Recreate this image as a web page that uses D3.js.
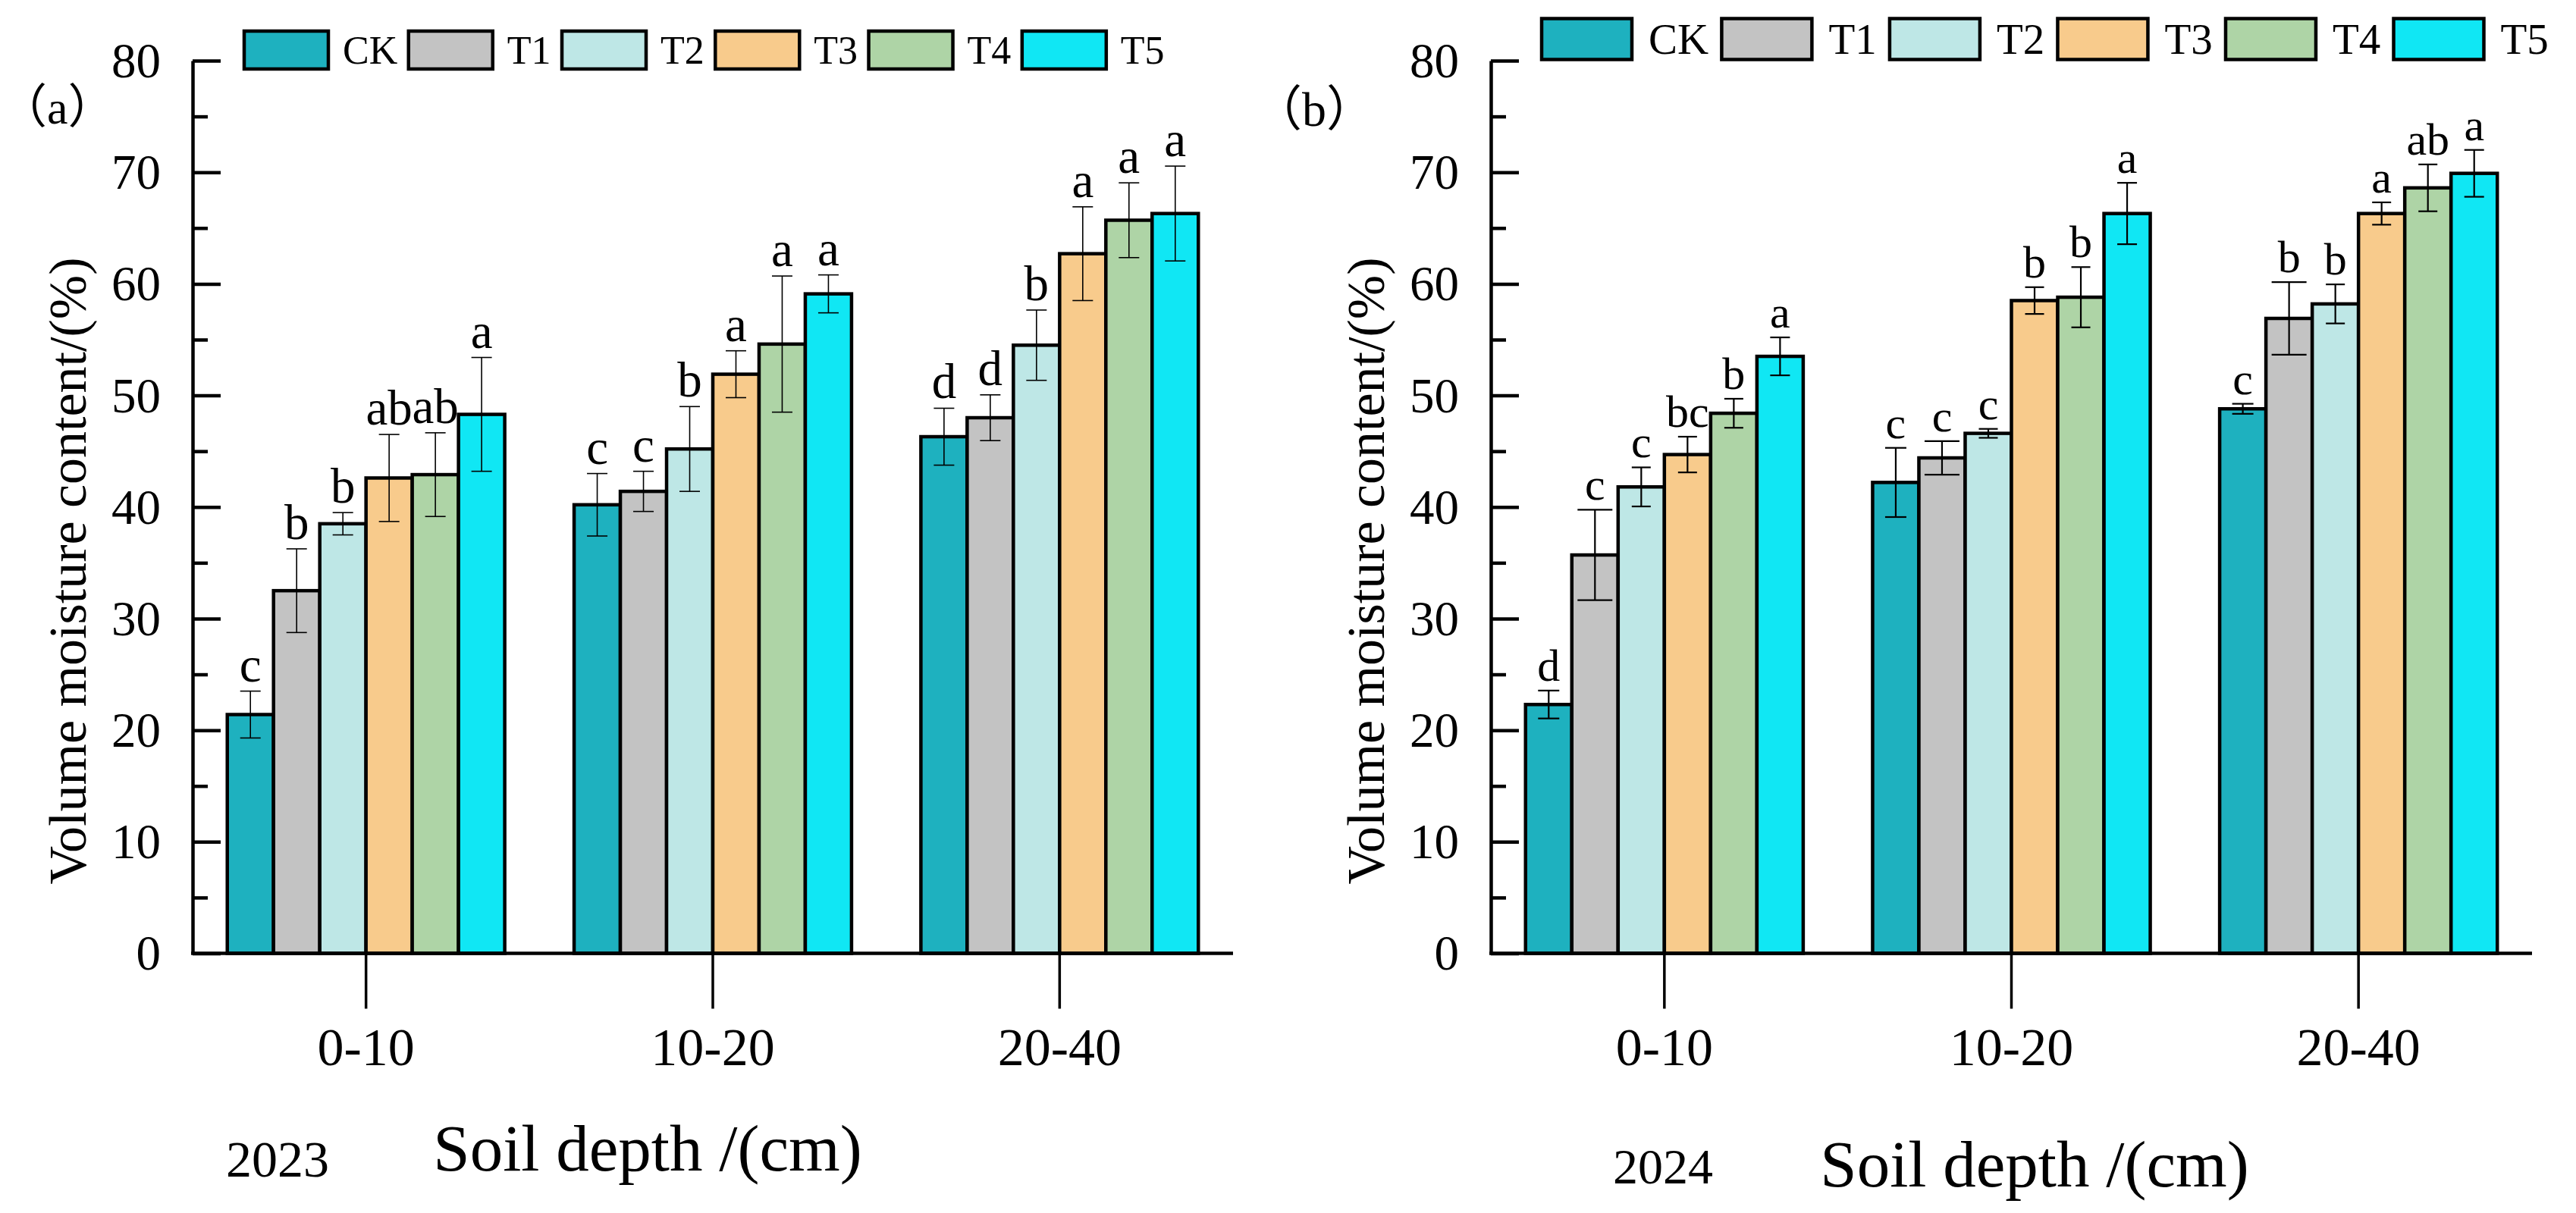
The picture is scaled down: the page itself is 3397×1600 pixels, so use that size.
<!DOCTYPE html>
<html><head><meta charset="utf-8">
<script src="https://cdn.jsdelivr.net/npm/d3@7"></script>
<style>body{margin:0;background:#fff}svg{display:block}</style>
</head><body><svg id="c" width="3397" height="1600"></svg>
<script>
// ---------- data ----------
const categories = ["0-10", "10-20", "20-40"];
const seriesNames = ["CK", "T1", "T2", "T3", "T4", "T5"];
const seriesColors = ["#1eb1bf", "#c3c3c3", "#bee7e6", "#f8cb8c", "#aed4a6", "#10e7f4"];
const yTickValues = [0, 10, 20, 30, 40, 50, 60, 70, 80];
const yMinorValues = [5, 15, 25, 35, 45, 55, 65, 75];

// rows = soil depth category, columns = treatment (CK,T1..T5)
const means2023 = [
  [21.4, 32.5, 38.5, 42.6, 42.9, 48.3],
  [40.2, 41.4, 45.2, 51.9, 54.6, 59.1],
  [46.3, 48.0, 54.5, 62.7, 65.7, 66.3]
];
const errors2023 = [
  [2.1, 3.75, 1.0, 3.9, 3.75, 5.1],
  [2.8, 1.8, 3.8, 2.1, 6.1, 1.7],
  [2.55, 2.05, 3.15, 4.2, 3.35, 4.25]
];
const letters2023 = [
  ["c", "b", "b", "ab", "ab", "a"],
  ["c", "c", "b", "a", "a", "a"],
  ["d", "d", "b", "a", "a", "a"]
];
const means2024 = [
  [22.3, 35.7, 41.8, 44.7, 48.4, 53.5],
  [42.2, 44.4, 46.6, 58.5, 58.8, 66.3],
  [48.8, 56.9, 58.2, 66.3, 68.6, 69.9]
];
const errors2024 = [
  [1.25, 4.05, 1.75, 1.6, 1.3, 1.7],
  [3.1, 1.5, 0.4, 1.2, 2.7, 2.75],
  [0.45, 3.25, 1.75, 1.0, 2.1, 2.1]
];
const letters2024 = [
  ["d", "c", "c", "bc", "b", "a"],
  ["c", "c", "c", "b", "b", "a"],
  ["c", "b", "b", "a", "ab", "a"]
];

// ---------- layout / style ----------
const FONT = "'Liberation Serif','Times New Roman',serif";
const svg = d3.select("#c");

const panels = [
  {
    means: means2023, errors: errors2023, letters: letters2023,
    axisX: 254, axisRight: 1626,
    tag: "（a）", tagX: 0, tagY: 163, tagSize: 62,
    year: "2023", yearX: 298, yearY: 1552, yearSize: 68,
    xTitleX: 854, xTitleY: 1544,
    yTitleX: 113, yTitleY: 753,
    legend: {x: 322, y: 41, w: 111, h: 50, gap1: 19, gap2: 14.5, size: 52},
    letterSize: 65, errW: 1.6, caps: [27, 27, 27, 27, 27, 27]
  },
  {
    means: means2024, errors: errors2024, letters: letters2024,
    axisX: 1966, axisRight: 3339,
    tag: "（b）", tagX: 1653, tagY: 166, tagSize: 64,
    year: "2024", yearX: 2127, yearY: 1561, yearSize: 66,
    xTitleX: 2683, xTitleY: 1565,
    yTitleX: 1825, yTitleY: 753,
    legend: {x: 2033, y: 24.5, w: 119, h: 54, gap1: 22, gap2: 17.2, size: 57},
    letterSize: 60, errW: 2.2, caps: [28, 46, 25, 25, 25, 26]
  }
];

const y = d3.scaleLinear().domain([0, 80]).range([1257.5, 80]);

panels.forEach(p => {
  const g = svg.append("g");
  const x0 = d3.scaleBand().domain(categories).range([p.axisX, p.axisRight])
    .paddingInner(0.2).paddingOuter(0.1);
  const x1 = d3.scaleBand().domain(seriesNames).range([0, x0.bandwidth()]);
  const color = d3.scaleOrdinal().domain(seriesNames).range(seriesColors);

  // flatten
  const rows = [];
  categories.forEach((c, i) => seriesNames.forEach((s, j) => {
    rows.push({c, s, j, m: p.means[i][j], e: p.errors[i][j], l: p.letters[i][j]});
  }));

  // bars
  g.selectAll("rect.bar").data(rows).join("rect").attr("class", "bar")
    .attr("x", d => x0(d.c) + x1(d.s))
    .attr("width", x1.bandwidth())
    .attr("y", d => y(d.m))
    .attr("height", d => y(0) - y(d.m))
    .attr("fill", d => color(d.s))
    .attr("stroke", "#000").attr("stroke-width", 4.5);

  // error bars
  const eg = g.append("g").attr("stroke", "#000").attr("stroke-width", p.errW);
  const cx = d => x0(d.c) + x1(d.s) + x1.bandwidth() / 2;
  eg.selectAll("line.v").data(rows).join("line").attr("class", "v")
    .attr("x1", cx).attr("x2", cx)
    .attr("y1", d => y(d.m + d.e)).attr("y2", d => y(d.m - d.e));
  eg.selectAll("line.t").data(rows).join("line").attr("class", "t")
    .attr("x1", d => cx(d) - p.caps[d.j] / 2).attr("x2", d => cx(d) + p.caps[d.j] / 2)
    .attr("y1", d => y(d.m + d.e)).attr("y2", d => y(d.m + d.e));
  eg.selectAll("line.b").data(rows).join("line").attr("class", "b")
    .attr("x1", d => cx(d) - p.caps[d.j] / 2).attr("x2", d => cx(d) + p.caps[d.j] / 2)
    .attr("y1", d => y(d.m - d.e)).attr("y2", d => y(d.m - d.e));

  // significance letters
  g.selectAll("text.sig").data(rows).join("text").attr("class", "sig")
    .attr("x", cx).attr("y", d => y(d.m + d.e) - 13)
    .attr("text-anchor", "middle")
    .style("font-family", FONT).style("font-size", p.letterSize + "px")
    .text(d => d.l);

  // y axis (major + minor, inward ticks)
  const ya = g.append("g").attr("transform", `translate(${p.axisX},0)`)
    .call(d3.axisLeft(y).tickValues(yTickValues).tickSize(-37).tickSizeOuter(0).tickPadding(42));
  ya.select(".domain").attr("stroke-width", 4.5);
  ya.selectAll(".tick line").attr("stroke-width", 4.5);
  ya.selectAll(".tick text").style("font-family", FONT).style("font-size", "65px")
    .attr("dy", "0.33em").attr("fill", "#000");
  const ym = g.append("g").attr("transform", `translate(${p.axisX},0)`)
    .call(d3.axisLeft(y).tickValues(yMinorValues).tickSize(-20).tickSizeOuter(0).tickFormat(""));
  ym.select(".domain").remove();
  ym.selectAll(".tick line").attr("stroke-width", 4.5);

  // x axis
  const xa = g.append("g").attr("transform", `translate(0,${y(0)})`)
    .call(d3.axisBottom(x0).tickSize(73).tickSizeOuter(0).tickPadding(25));
  xa.select(".domain").attr("stroke-width", 4.5).attr("d", `M${p.axisX - 2},0H${p.axisRight}`);
  xa.selectAll(".tick line").attr("stroke-width", 3.5);
  xa.selectAll(".tick text").style("font-family", FONT).style("font-size", "70px").attr("fill", "#000");

  // axis titles
  g.append("text").attr("transform", `translate(${p.yTitleX},${p.yTitleY}) rotate(-90)`)
    .attr("text-anchor", "middle").style("font-family", FONT).style("font-size", "70px")
    .text("Volume moisture content/(%)");
  g.append("text").attr("x", p.xTitleX).attr("y", p.xTitleY)
    .attr("text-anchor", "middle").style("font-family", FONT).style("font-size", "87px")
    .text("Soil depth /(cm)");
  g.append("text").attr("x", p.yearX).attr("y", p.yearY)
    .style("font-family", FONT).style("font-size", p.yearSize + "px").text(p.year);
  g.append("text").attr("x", p.tagX).attr("y", p.tagY)
    .style("font-family", "'Liberation Serif','Noto Sans CJK SC',serif")
    .style("font-size", p.tagSize + "px").text(p.tag);

  // legend
  const L = p.legend;
  let lx = L.x;
  seriesNames.forEach((s, j) => {
    const lg = g.append("g").attr("class", "legend-item");
    lg.append("rect").attr("x", lx).attr("y", L.y).attr("width", L.w).attr("height", L.h)
      .attr("fill", seriesColors[j]).attr("stroke", "#000").attr("stroke-width", 4.5);
    const t = lg.append("text").attr("x", lx + L.w + L.gap1).attr("y", L.y + L.h / 2)
      .attr("dy", "0.35em").style("font-family", FONT).style("font-size", L.size + "px").text(s);
    lx += L.w + L.gap1 + t.node().getComputedTextLength() + L.gap2;
  });
});
</script></body></html>
